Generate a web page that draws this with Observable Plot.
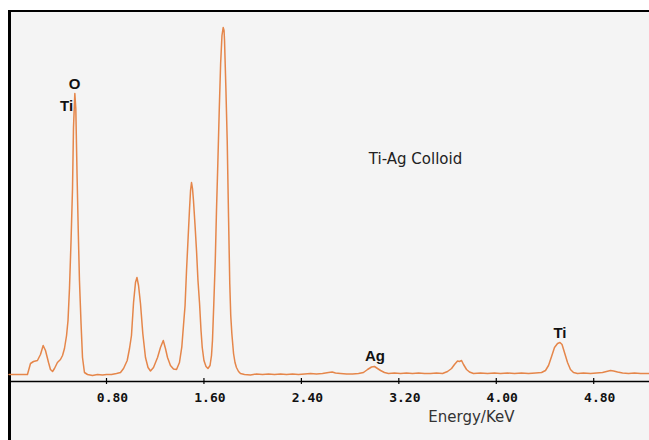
<!DOCTYPE html>
<html>
<head>
<meta charset="utf-8">
<script src="https://cdn.jsdelivr.net/npm/d3@7"></script>
<script src="https://cdn.jsdelivr.net/npm/@observablehq/plot@0.6"></script>
<style>
  html, body { margin: 0; padding: 0; background: #ffffff; }
  #wrap { position: relative; width: 649px; height: 440px; overflow: hidden; background: #ffffff; }
  #panel { position: absolute; left: 8px; top: 10px; right: 0; bottom: 0; background: #f4f4f4;
           border-left: 3px solid #000; border-top: 2px solid #000; }
  #chart { position: absolute; left: 0; top: 0; }
</style>
</head>
<body>
<div id="wrap"><div id="panel"></div><div id="chart"></div></div>
<script>
// Spectrum (energy in keV, counts in arbitrary units)
const energy = [
  0.00, 0.151, 0.176, 0.201, 0.233, 0.258, 0.280, 0.299, 0.324, 0.340, 0.357, 0.373, 0.397, 0.422, 0.439, 0.455,
  0.472, 0.484, 0.496, 0.509, 0.521, 0.529, 0.540, 0.548, 0.558, 0.568, 0.578, 0.591, 0.603, 0.619, 0.644,
  0.685, 0.726, 0.767, 0.800, 0.841, 0.882, 0.915, 0.940, 0.970, 0.989, 1.005, 1.022, 1.038, 1.050, 1.063,
  1.079, 1.098, 1.120, 1.141, 1.161, 1.186, 1.219, 1.243, 1.266, 1.284, 1.301, 1.325, 1.350, 1.375, 1.399,
  1.418, 1.432, 1.445, 1.457, 1.469, 1.481, 1.490, 1.498, 1.506, 1.514, 1.527, 1.539, 1.551, 1.564, 1.576,
  1.586, 1.600, 1.617, 1.633, 1.650, 1.662, 1.670, 1.681, 1.693, 1.703, 1.714, 1.726, 1.737, 1.748, 1.758,
  1.765, 1.769, 1.780, 1.791, 1.802, 1.812, 1.820, 1.829, 1.843, 1.855, 1.867, 1.884, 1.900, 1.933,
  1.982, 2.031, 2.081, 2.130, 2.179, 2.229, 2.278, 2.327, 2.376, 2.426, 2.475, 2.524, 2.573, 2.623, 2.653,
  2.680, 2.721, 2.771, 2.820, 2.869, 2.910, 2.943, 2.976, 3.000, 3.025, 3.050, 3.082, 3.115, 3.164, 3.214,
  3.263, 3.312, 3.362, 3.411, 3.460, 3.509, 3.559, 3.600, 3.633, 3.657, 3.682, 3.698, 3.715, 3.731, 3.756,
  3.780, 3.813, 3.870, 3.928, 3.985, 4.035, 4.092, 4.150, 4.207, 4.265, 4.322, 4.372, 4.404, 4.429, 4.454,
  4.478, 4.503, 4.523, 4.540, 4.560, 4.585, 4.609, 4.634, 4.667, 4.716, 4.774, 4.823, 4.872, 4.905, 4.938,
  4.963, 4.996, 5.037, 5.086, 5.135, 5.185, 5.258
];
const counts = [
  70, 70, 180, 200, 210, 270, 360, 310, 190, 120, 100, 130, 190, 220, 260, 330,
  460, 610, 930, 1410, 1930, 2540, 2880, 2730, 2080, 1510, 1010, 580, 240, 90, 70,
  60, 70, 65, 70, 70, 80, 90, 130, 210, 330, 460, 790, 990, 1040, 960,
  780, 480, 240, 140, 105, 140, 240, 340, 410, 330, 240, 160, 125, 120, 190,
  343, 560, 760, 1110, 1410, 1710, 1910, 1990, 1930, 1810, 1560, 1310, 1010, 780, 510,
  340, 210, 150, 130, 160, 260, 410, 780, 1210, 1710, 2180, 2730, 3180, 3460, 3540,
  3510, 3410, 2940, 2410, 1640, 980, 660, 480, 280, 190, 140, 100, 80, 70,
  65, 75, 70, 75, 70, 75, 70, 75, 70, 75, 80, 75, 80, 90, 95,
  85, 80, 75, 75, 80, 90, 120, 145, 150, 130, 110, 90, 80, 85, 80,
  85, 80, 85, 80, 80, 85, 80, 100, 130, 170, 205, 200, 210, 170, 120,
  95, 80, 85, 80, 85, 80, 85, 80, 85, 80, 85, 90, 110, 160, 250,
  340, 380, 390, 370, 290, 190, 120, 90, 80, 85, 80, 85, 90, 100, 110,
  105, 95, 85, 80, 85, 80, 80
];

// Axis tick values
const tickValues = [0.8, 1.6, 2.4, 3.2, 4.0, 4.8];

// Peak labels
const peakLabels = ["O", "Ti", "Ag", "Ti"];
const peakEnergy = [0.537, 0.472, 3.004, 4.523];
const peakCount  = [2970, 2755, 255, 485];

// Titles
const sampleTitle = "Ti-Ag Colloid";
const sampleTitleE = 3.337;
const sampleTitleC = 2225;
const axisTitle = "Energy/KeV";

const spectrum = energy.map((e, i) => ({e, c: counts[i]}));
const labels = peakLabels.map((t, i) => ({t, e: peakEnergy[i], c: peakCount[i]}));

const chart = Plot.plot({
  width: 649,
  height: 440,
  marginLeft: 8.56,
  marginRight: 0,
  marginTop: 11,
  marginBottom: 59,
  style: {background: "transparent", overflow: "visible"},
  x: {domain: [0, 5.258], axis: null},
  y: {domain: [0, 3700], axis: null},
  marks: [
    Plot.ruleY([0], {stroke: "#000", strokeWidth: 1.5}),
    Plot.ruleX(tickValues, {x: d => d, y1: -30, y2: 30, stroke: "#000", strokeWidth: 1.2}),
    Plot.axisX(tickValues, {
      label: null,
      tickSize: 0, tickPadding: 11, dx: 6,
      tickFormat: d3.format(".2f"),
      fontFamily: "DejaVu Sans Mono", fontWeight: "bold", fontSize: 13, fill: "#111"
    }),
    Plot.line(spectrum, {x: "e", y: "c", stroke: "#e5864a", strokeWidth: 1.5, curve: "linear"}),
    Plot.text(labels, {x: "e", y: "c", text: "t", fontFamily: "Liberation Sans", fontWeight: "bold", fontSize: 15, fill: "#111"}),
    Plot.text([sampleTitle], {x: sampleTitleE, y: sampleTitleC, text: d => d, fontFamily: "DejaVu Sans", fontSize: 15, fill: "#222"}),
    Plot.text([axisTitle], {frameAnchor: "bottom-right", dx: -135, dy: 40, text: d => d, fontFamily: "DejaVu Sans", fontSize: 15, fill: "#333"})
  ]
});
document.getElementById("chart").appendChild(chart);
</script>
</body>
</html>
